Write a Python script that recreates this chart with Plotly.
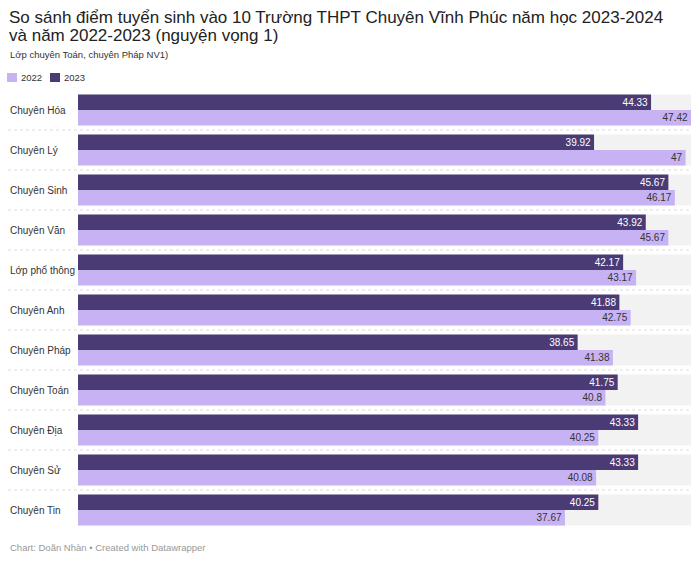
import plotly.graph_objects as go

categories = ["Chuyên Hóa", "Chuyên Lý", "Chuyên Sinh", "Chuyên Văn", "Lớp phổ thông",
              "Chuyên Anh", "Chuyên Pháp", "Chuyên Toán", "Chuyên Địa", "Chuyên Sử", "Chuyên Tin"]
values_2023 = [44.33, 39.92, 45.67, 43.92, 42.17, 41.88, 38.65, 41.75, 43.33, 43.33, 40.25]
values_2022 = [47.42, 47, 46.17, 45.67, 43.17, 42.75, 41.38, 40.8, 40.25, 40.08, 37.67]
series_names = ["2022", "2023"]
title_lines = ["So sánh điểm tuyển sinh vào 10 Trường THPT Chuyên Vĩnh Phúc năm học 2023-2024",
               "và năm 2022-2023 (nguyện vọng 1)"]
subtitle = "Lớp chuyên Toán, chuyên Pháp NV1)"
footer = "Chart: Doãn Nhàn • Created with Datawrapper"

C_DARK = "#4a3b75"
C_LIGHT = "#c7b3f3"
FONT = "Liberation Sans"

W, H = 700, 561
L, R, T, B = 78, 9, 90, 31
PW = W - L - R
PH = H - T - B

def xp(px):
    return (px - L) / PW

def yp(py):
    return (H - B - py) / PH

idx = list(range(len(categories)))
xmax = max(values_2022 + values_2023)

fig = go.Figure()
fig.add_trace(go.Bar(
    y=idx, x=values_2023, orientation="h", name=series_names[1],
    marker=dict(color=C_DARK, line=dict(width=0)),
    text=[f"{v:g}" for v in values_2023], textposition="inside",
    insidetextanchor="end", textangle=0, constraintext="none",
    textfont=dict(color="white", size=10, family=FONT), hoverinfo="skip",
))
fig.add_trace(go.Bar(
    y=idx, x=values_2022, orientation="h", name=series_names[0],
    marker=dict(color=C_LIGHT, line=dict(width=0)),
    text=[f"{v:g}" for v in values_2022], textposition="inside",
    insidetextanchor="end", textangle=0, constraintext="none",
    textfont=dict(color="#333333", size=10, family=FONT), hoverinfo="skip",
))

shapes = []
annotations = []
half = 0.3875
for i, c in enumerate(categories):
    shapes.append(dict(type="rect", xref="x", yref="y", x0=0, x1=xmax,
                       y0=i - half, y1=i + half, fillcolor="#f2f2f2",
                       line=dict(width=0), layer="below"))
    if i < len(categories) - 1:
        shapes.append(dict(type="line", xref="paper", yref="y", x0=xp(8), x1=1,
                           y0=i + 0.5, y1=i + 0.5,
                           line=dict(color="#dddddd", width=1, dash="dot"), layer="below"))
    annotations.append(dict(text=c, xref="paper", yref="y", x=xp(8), y=i,
                            xanchor="left", yanchor="middle", showarrow=False,
                            font=dict(size=10, color="#333333", family=FONT)))

# title, subtitle, legend, footer
for k, line in enumerate(title_lines):
    annotations.append(dict(
        text=line, xref="paper", yref="paper", x=xp(7), y=yp(6 + 17.5 * k),
        xanchor="left", yanchor="top", align="left", showarrow=False,
        font=dict(size=17, color="#222222", family=FONT)))
annotations.append(dict(
    text=subtitle, xref="paper", yref="paper",
    x=xp(8), y=yp(55), xanchor="left", yanchor="middle", showarrow=False,
    font=dict(size=9.5, color="#333333", family=FONT)))
for (x0, name, col) in [(7, series_names[0], C_LIGHT), (50, series_names[1], C_DARK)]:
    shapes.append(dict(type="rect", xref="paper", yref="paper", x0=xp(x0), x1=xp(x0 + 10),
                       y0=yp(73), y1=yp(82), fillcolor=col, line=dict(width=0)))
    annotations.append(dict(text=name, xref="paper", yref="paper", x=xp(x0 + 12), y=yp(77.5),
                            xanchor="left", yanchor="middle", showarrow=False,
                            font=dict(size=9.5, color="#333333", family=FONT)))
annotations.append(dict(
    text=footer, xref="paper", yref="paper",
    x=xp(8), y=yp(547), xanchor="left", yanchor="middle", showarrow=False,
    font=dict(size=9.5, color="#999999", family=FONT)))

fig.update_layout(
    width=W, height=H, margin=dict(l=L, r=R, t=T, b=B, pad=0),
    barmode="group", bargap=0.225, bargroupgap=0,
    plot_bgcolor="white", paper_bgcolor="white",
    showlegend=False, shapes=shapes, annotations=annotations,
    xaxis=dict(range=[0, xmax], visible=False, fixedrange=True),
    yaxis=dict(range=[len(categories) - 0.5, -0.5], visible=False, fixedrange=True),
    uniformtext=dict(minsize=10, mode="show"),
    font=dict(family=FONT),
)
fig.write_html("out.html", config={"displayModeBar": False},
               post_script="document.body.style.margin='0';document.body.style.overflow='hidden';")
